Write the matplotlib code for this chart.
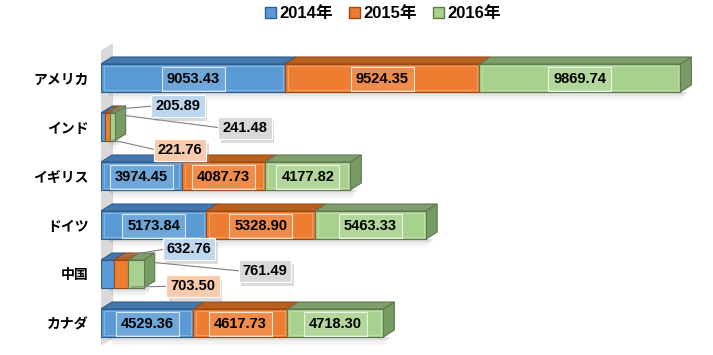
import matplotlib
matplotlib.use("Agg")
import matplotlib.pyplot as plt
from matplotlib.patches import Polygon, Rectangle, Patch
import matplotlib.patheffects as pe

plt.rcParams['font.family'] = ['Liberation Sans', 'Noto Sans CJK JP', 'DejaVu Sans']

categories = ['アメリカ', 'インド', 'イギリス', 'ドイツ', '中国', 'カナダ']
series_names = ['2014年', '2015年', '2016年']
v2014 = [9053.43, 205.89, 3974.45, 5173.84, 632.76, 4529.36]
v2015 = [9524.35, 221.76, 4087.73, 5328.90, 703.50, 4617.73]
v2016 = [9869.74, 241.48, 4177.82, 5463.33, 761.49, 4718.30]
values = [v2014, v2015, v2016]

front = ['#5B9BD5', '#ED7D31', '#A9D18E']
top = ['#4577AC', '#B8611F', '#809E6B']
side = ['#3D6A98', '#A5541E', '#789A63']
edge = ['#2E5F8F', '#9A4A17', '#5F7A50']
boxface = ['#BDD7EE', '#F8CBAD', '#D9D9D9']

W, H = 713, 355
fig = plt.figure(figsize=(W / 100, H / 100), dpi=100)
left_px, right_px, top_px, bot_px = 101, 712, 30, 354
ax = fig.add_axes([left_px / W, (H - bot_px) / H, (right_px - left_px) / W, (bot_px - top_px) / H])
xmax = 30000
ax.set_xlim(0, xmax)
row_px = 49
y0_px = 78
ax.set_ylim((bot_px - y0_px) / row_px, (top_px - y0_px) / row_px)

px2x = xmax / (right_px - left_px)
dx = 11 * px2x
dy = 7 / row_px
bh = 28 / row_px

# back wall
wl = -2 * px2x
wr = 12 * px2x
wdy = 9 / row_px
wall_top, wall_bot = (52 - y0_px) / row_px, (347 - y0_px) / row_px
ax.add_patch(Polygon([(wl, wall_bot), (wr, wall_bot - wdy), (wr, wall_top - wdy), (wl, wall_top)],
                     closed=True, facecolor='#D9D9D9', edgecolor='none', zorder=0))

ext_pos = {1: [(3781, 0.57), (3879, 1.47), (7070, 1.02)],
           4: [(4321, 3.49), (4517, 4.25), (8052, 3.94)]}

shadow_fx = [pe.SimplePatchShadow(offset=(2, -3), shadow_rgbFace='#9A9A9A', alpha=0.35), pe.Normal()]

for i, cat in enumerate(categories):
    left = 0
    ytop = i - bh / 2
    ybot = i + bh / 2
    total = sum(values[s][i] for s in range(3))
    for k, a in enumerate([0.07, 0.05, 0.03, 0.02]):
        ax.add_patch(Rectangle((dx * 0.6 + k * 80, ybot), total - k * 160, (k + 1) * 0.045,
                               facecolor='#000000', alpha=a, edgecolor='none', zorder=1))
    for s in range(3):
        v = values[s][i]
        ax.add_patch(Polygon([(left, ytop), (left + dx, ytop - dy), (left + v + dx, ytop - dy), (left + v, ytop)],
                             closed=True, facecolor=top[s], edgecolor=edge[s], lw=0.8, zorder=2))
        ax.add_patch(Rectangle((left, ytop), v, bh, facecolor=front[s], edgecolor=edge[s], lw=0.8, zorder=3))
        if v > 2000:
            ax.add_patch(Rectangle((left + 130, ytop + 0.05), v - 260, bh - 0.10, facecolor='none',
                                   edgecolor='white', lw=0.6, alpha=0.3, zorder=3.5))
        if s == 2:
            ax.add_patch(Polygon([(left + v, ytop), (left + v + dx, ytop - dy), (left + v + dx, ybot - dy), (left + v, ybot)],
                                 closed=True, facecolor=side[s], edgecolor=edge[s], lw=0.8, zorder=2))
        label = '{:.2f}'.format(v)
        if i in ext_pos:
            tx, ty = ext_pos[i][s]
            if s == 0:
                sx, sy = left + v + dx * 0.6, ytop - dy * 0.5
            elif s == 2:
                sx, sy = left + v + dx * 0.9, ytop + 0.05
            else:
                sx, sy = left + v + dx * 0.3, ybot - 0.02
            ax.plot([sx, tx - 1150], [sy, ty], color='#7F7F7F', lw=0.8, zorder=4)
            t = ax.text(tx, ty, label, ha='center', va='center', fontsize=10.5, fontweight='bold',
                        color='black', zorder=6,
                        bbox=dict(boxstyle='square,pad=0.28', facecolor=boxface[s], edgecolor='white', lw=0.8))
            t.get_bbox_patch().set_path_effects(shadow_fx)
        else:
            ax.text(left + v / 2, i + 0.02, label, ha='center', va='center', fontsize=10.5,
                    fontweight='bold', color='black', zorder=6,
                    bbox=dict(boxstyle='square,pad=0.35', facecolor=(1, 1, 1, 0.12),
                              edgecolor=(1, 1, 1, 0.75), lw=0.8))
        left += v

ax.set_yticks(range(len(categories)))
ax.set_yticklabels(categories, fontsize=10, fontweight='bold', family=['Noto Sans CJK JP', 'DejaVu Sans'])
ax.tick_params(axis='y', length=0, pad=9)
ax.set_xticks([])
for sp in ax.spines.values():
    sp.set_visible(False)

handles = [Patch(facecolor=front[s], edgecolor=edge[s], label=series_names[s]) for s in range(3)]
fig.legend(handles=handles, loc='upper center', bbox_to_anchor=(0.537, 1.025), ncol=3, frameon=False,
           handlelength=0.65, handleheight=0.65, handletextpad=0.2, columnspacing=1.0,
           prop={'family': ['Liberation Sans', 'Noto Sans CJK JP'], 'weight': 'bold', 'size': 12})

fig.savefig('out.png', dpi=100)
